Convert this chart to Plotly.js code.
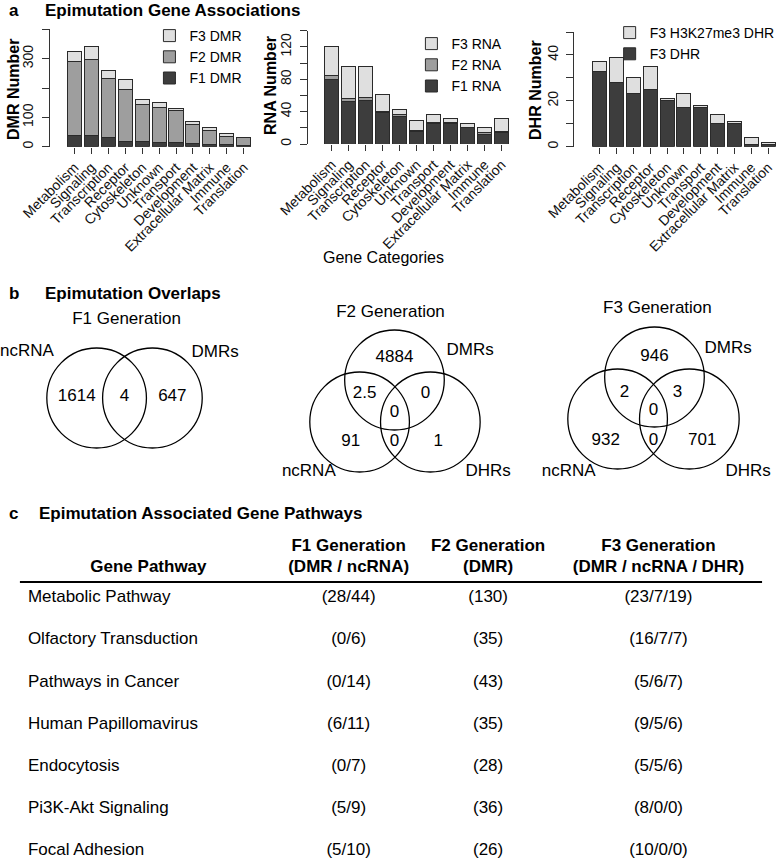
<!DOCTYPE html>
<html><head><meta charset="utf-8">
<script src="https://cdn.plot.ly/plotly-3.0.1.min.js"></script>
<style>body{margin:0;background:#fff}#chart{width:780px;height:862px}</style>
</head><body><div id="chart"></div>
<script>
// ---------- DATA ----------
const categories = ['Metabolism','Signaling','Transcription','Receptor','Cytoskeleton','Unknown','Transport','Development','Extracellular Matrix','Immune','Translation'];
const dmrF1 = [38,39,31,18,18,13,16,10,9,9,5];
const dmrF2 = [254,259,201,177,127,121,106,65,46,27,26];
const dmrF3 = [32,43,29,35,16,17,9,11,10,9,2];
const rnaF1 = [80,53,54,39,34,15,25,25,21,12,14];
const rnaF2 = [5,3,3,1,2,2,1,2,0,2,1];
const rnaF3 = [35,40,39,21,7,12,10,5,4,6,17];
const dhrF3 = [33,28,23,25,20,17,17,10,10,1,1];
const dhrH3K27me3 = [4,11,7,10,1,6,1,4,1,3,1];
const dmrTickVals = [0,100,200,300,400];
const dmrTickText = ['0','100','','300',''];
const rnaTickVals = [0,20,40,60,80,100,120,140];
const rnaTickText = ['0','','40','','80','','120',''];
const dhrTickVals = [0,10,20,30,40,50];
const dhrTickText = ['0','','20','','40',''];

const f1Sets = ['ncRNA','DMRs'];
const f1Counts = ['1614','4','647'];           // ncRNA only, both, DMRs only
const f2Sets = ['DMRs','ncRNA','DHRs'];
const f2Counts = ['4884','2.5','0','0','91','0','1']; // D, D∩N, D∩H, all, N, N∩H, H
const f3Sets = ['DMRs','ncRNA','DHRs'];
const f3Counts = ['946','2','3','0','932','0','701'];
const generations = ['F1 Generation','F2 Generation','F3 Generation'];

const tableHeader = ['Gene Pathway','F1 Generation','F2 Generation','F3 Generation'];
const tableSubHeader = ['','(DMR / ncRNA)','(DMR)','(DMR / ncRNA / DHR)'];
const pathways = ['Metabolic Pathway','Olfactory Transduction','Pathways in Cancer','Human Papillomavirus','Endocytosis','Pi3K-Akt Signaling','Focal Adhesion'];
const f1Pathway = ['(28/44)','(0/6)','(0/14)','(6/11)','(0/7)','(5/9)','(5/10)'];
const f2Pathway = ['(130)','(35)','(43)','(35)','(28)','(36)','(26)'];
const f3Pathway = ['(23/7/19)','(16/7/7)','(5/6/7)','(9/5/6)','(5/5/6)','(8/0/0)','(10/0/0)'];

// ---------- LAYOUT HELPERS ----------
const W = 780, H = 862;
const FONT = 'Liberation Sans, Arial, Helvetica, sans-serif';
const px = x => x / W;
const py = y => 1 - y / H;
const DARK = '#3d3d3d', MID = '#9e9e9e', LIGHT = '#dfdfdf', EDGE = '#2a2a2a';

const traces = [];
function bar(y, color, name, xa, ya, leg) {
  traces.push({type:'bar', x:categories, y:y, name:name, xaxis:xa, yaxis:ya, legend:leg,
    marker:{color:color, line:{color:EDGE, width:1}}, hoverinfo:'skip'});
}
bar(dmrF1, DARK, 'F1 DMR', 'x', 'y', 'legend');
bar(dmrF2, MID, 'F2 DMR', 'x', 'y', 'legend');
bar(dmrF3, LIGHT, 'F3 DMR', 'x', 'y', 'legend');
bar(rnaF1, DARK, 'F1 RNA', 'x2', 'y2', 'legend2');
bar(rnaF2, MID, 'F2 RNA', 'x2', 'y2', 'legend2');
bar(rnaF3, LIGHT, 'F3 RNA', 'x2', 'y2', 'legend2');
bar(dhrF3, DARK, 'F3 DHR', 'x3', 'y3', 'legend3');
bar(dhrH3K27me3, LIGHT, 'F3 H3K27me3 DHR', 'x3', 'y3', 'legend3');

function xax(l, r, range, anchor) {
  return {domain:[px(l), px(r)], range:range, type:'category', anchor:anchor, showline:false,
    tickmode:'array', tickvals:categories, ticktext:categories,
    ticks:'outside', ticklen:6, tickcolor:'#333', tickangle:-45, showgrid:false, zeroline:false,
    tickfont:{family:FONT, size:14, color:'#111'}, fixedrange:true};
}
function yax(top, bottom, range, vals, text, anchor) {
  return {domain:[py(bottom), py(top)], range:range, anchor:anchor, tickmode:'array', tickvals:vals, ticktext:text,
    showline:true, linecolor:'#333', linewidth:1, ticks:'outside', ticklen:7, tickcolor:'#333',
    tickangle:-90, ticklabelstandoff:3, showgrid:false, zeroline:false,
    tickfont:{family:FONT, size:14, color:'#111'}, fixedrange:true};
}

// pixel-space axis for venn + table
const pixAxisX = {domain:[0,1], range:[0,W], visible:false, fixedrange:true, anchor:'y4'};
const pixAxisY = {domain:[0,1], range:[H,0], visible:false, fixedrange:true, anchor:'x4'};

function textTrace(xs, ys, texts, size, pos, bold) {
  traces.push({type:'scatter', mode:'text', x:xs, y:ys, text:texts.map(t => bold ? '<b>'+t+'</b>' : t),
    textposition:pos, textfont:{family:FONT, size:size, color:'#000'}, xaxis:'x4', yaxis:'y4',
    showlegend:false, hoverinfo:'skip', cliponaxis:false});
}

// Venn geometry (pixel layout)
const R = 50;
const f1Circles = [[97,398],[153,398]];
const f2Circles = [[396,380],[361,422],[432,422]];
const f3Circles = [[657,377],[620,419],[692,419]];
const shapes = [];
[f1Circles, f2Circles, f3Circles].forEach(cs => cs.forEach(c => shapes.push({
  type:'circle', xref:'x4', yref:'y4', x0:c[0]-R, x1:c[0]+R, y0:c[1]-R, y1:c[1]+R,
  line:{color:'#000', width:1.3}, fillcolor:'rgba(0,0,0,0)'})));

textTrace([77,125,173], [397,397,397], f1Counts, 17, 'middle center');
textTrace([27,216], [352,353], f1Sets, 17, 'middle center');
textTrace([396,366,427,396,352,396,440], [358,394,394,413,442,442,442], f2Counts, 17, 'middle center');
textTrace([472,310,490], [351,472,472], f2Sets, 17, 'middle center');
textTrace([657,627,680,656,608,656,705], [357,393,393,411,441,441,441], f3Counts, 17, 'middle center');
textTrace([731,571,751], [349,472,472], f3Sets, 17, 'middle center');
textTrace([127,392,660], [320,313,309], generations, 17, 'middle center');

// Table
const colX = [149, 350, 490, 661];
const rowY = pathways.map((_, i) => 598 + 42.2 * i);
textTrace(colX.slice(1), [547,547,547], tableHeader.slice(1), 17, 'middle center', true);
textTrace(colX, [568,568,568,568], [tableHeader[0]].concat(tableSubHeader.slice(1)), 17, 'middle center', true);
textTrace(pathways.map(() => 28), rowY, pathways, 17, 'middle right');
textTrace(pathways.map(() => colX[1]), rowY, f1Pathway, 17, 'middle center');
textTrace(pathways.map(() => colX[2]), rowY, f2Pathway, 17, 'middle center');
textTrace(pathways.map(() => colX[3]), rowY, f3Pathway, 17, 'middle center');
shapes.push({type:'line', xref:'x4', yref:'y4', x0:20, x1:765, y0:582, y1:582, line:{color:'#000', width:2}});

function ann(x, y, text, opts) {
  return Object.assign({xref:'paper', yref:'paper', x:px(x), y:py(y), text:text, showarrow:false,
    xanchor:'left', yanchor:'middle', font:{family:FONT, size:17, color:'#000'}}, opts || {});
}
const annotations = [
  ann(7, 10, '<b>a</b>'), ann(43, 10, '<b>Epimutation Gene Associations</b>'),
  ann(7, 293, '<b>b</b>'), ann(43, 293, '<b>Epimutation Overlaps</b>'),
  ann(7, 513, '<b>c</b>'), ann(37, 513, '<b>Epimutation Associated Gene Pathways</b>'),
  ann(385, 257, 'Gene Categories', {xanchor:'center', font:{family:FONT, size:16, color:'#000'}}),
  ann(13, 89, '<b>DMR Number</b>', {xanchor:'center', textangle:-90, font:{family:FONT, size:16, color:'#000'}}),
  ann(271, 85, '<b>RNA Number</b>', {xanchor:'center', textangle:-90, font:{family:FONT, size:16, color:'#000'}}),
  ann(537, 90, '<b>DHR Number</b>', {xanchor:'center', textangle:-90, font:{family:FONT, size:16, color:'#000'}})
];

function leg(x, y) {
  return {x:px(x), y:py(y), xanchor:'left', yanchor:'top', traceorder:'reversed', bgcolor:'rgba(0,0,0,0)',
    font:{family:FONT, size:14, color:'#000'}, itemwidth:30, itemclick:false, itemdoubleclick:false};
}

const layout = {
  width:W, height:H, margin:{l:0, r:0, t:0, b:0}, paper_bgcolor:'#fff', plot_bgcolor:'rgba(0,0,0,0)',
  barmode:'stack', bargap:0.167, showlegend:true, font:{family:FONT},
  xaxis: xax(50, 255, [-1.46, 10.61], 'y'),
  yaxis: yax(29.3, 146.7, [0,400], dmrTickVals, dmrTickText, 'x'),
  xaxis2: xax(309, 515, [-1.41, 10.67], 'y2'),
  yaxis2: yax(30.7, 144, [0,140], rnaTickVals, rnaTickText, 'x2'),
  xaxis3: xax(576.7, 780, [-1.5, 10.53], 'y3'),
  yaxis3: yax(32, 146.7, [0,50], dhrTickVals, dhrTickText, 'x3'),
  xaxis4: pixAxisX, yaxis4: pixAxisY,
  legend: leg(150, 20), legend2: leg(413, 28), legend3: leg(612, 17),
  shapes: shapes, annotations: annotations
};

Plotly.newPlot('chart', traces, layout, {staticPlot:true, displayModeBar:false});
</script></body></html>
